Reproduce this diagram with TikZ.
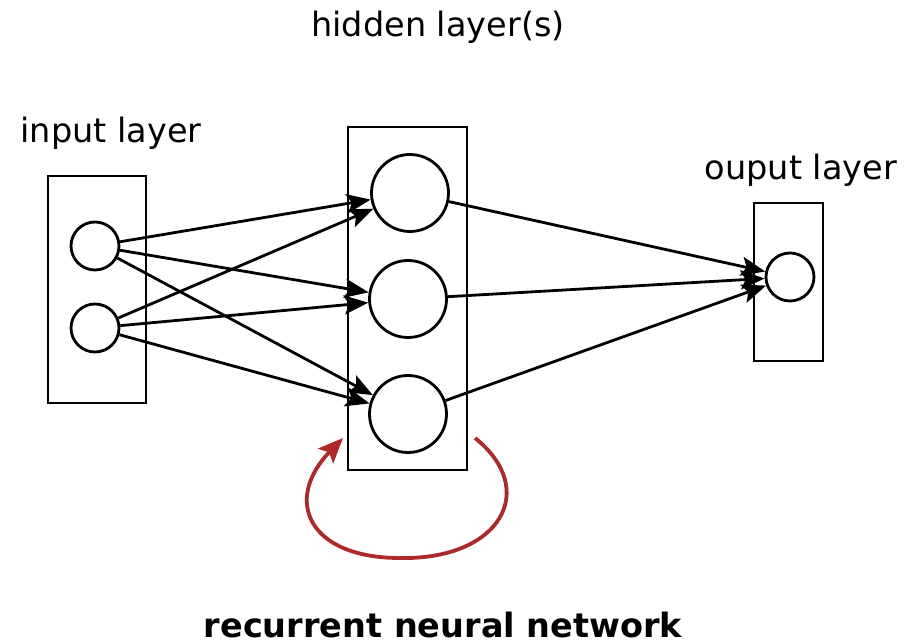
\documentclass[tikz,border=0pt]{standalone}
\usepackage{fontspec}
\setmainfont{DejaVu Sans}
\usepackage{xcolor}
\usetikzlibrary{arrows.meta}
\definecolor{loopred}{RGB}{172,42,42}

\begin{document}
\begin{tikzpicture}[x=1pt,y=-1pt,
    layer/.style={draw, line width=2.8pt, minimum width=#1},
    neuron/.style={draw, circle, line width=2.8pt, inner sep=0pt, minimum size=#1},
    lbl/.style={anchor=base, font=\fontsize{33.5}{40}\selectfont},
    link/.style={line width=2.8pt, -{Stealth[length=24pt,width=19pt,inset=5pt]}}]
                \useasboundingbox (0,0) rectangle (906,644);

                % Strati
                \node[layer=98, minimum height=227] (inbox) at (97,289.5) {};
                \node[layer=119, minimum height=343] (hidbox) at (407.5,298.5) {};
                \node[layer=69, minimum height=158] (outbox) at (788.5,282) {};

                % Neuroni
                \node[neuron=48] (in1) at (95,246) {};
                \node[neuron=48] (in2) at (95,328) {};
                \node[neuron=77] (h1) at (410,193) {};
                \node[neuron=77] (h2) at (408,299) {};
                \node[neuron=77] (h3) at (408,414) {};
                \node[neuron=48] (out) at (790,277) {};

                % Etichette
                \node[lbl] (hidlbl) at (438,37) {hidden layer(s)};
                \node[lbl] (inlbl) at (111,143) {input layer};
                \node[lbl] (outlbl) at (801,180) {ouput layer};
                \node[lbl, inner sep=0pt, font=\fontsize{33.5}{40}\selectfont\bfseries] (title) at (443,637) {recurrent neural network};

                % Connessioni
                \draw[link] (in1) -- (h1);
                \draw[link] (in1) -- (h2);
                \draw[link] (in1) -- (h3);
                \draw[link] (in2) -- (h1);
                \draw[link] (in2) -- (h2);
                \draw[link] (in2) -- (h3);
                \draw[link] (h1) -- (out);
                \draw[link] (h2) -- (out);
                \draw[link] (h3) -- (out);

                % Ricorrenza
                \coordinate (loopA) at (475,438);
                \coordinate (loopB) at (343,438);
                \draw[loopred, line width=3.8pt, -{Stealth[length=25pt,width=21pt,inset=5pt]}]
                    (loopA) .. controls (540,490) and (500,560) .. (400,558)
                    .. controls (308,558) and (283,500) .. (loopB);
            \end{tikzpicture}
\end{document}
